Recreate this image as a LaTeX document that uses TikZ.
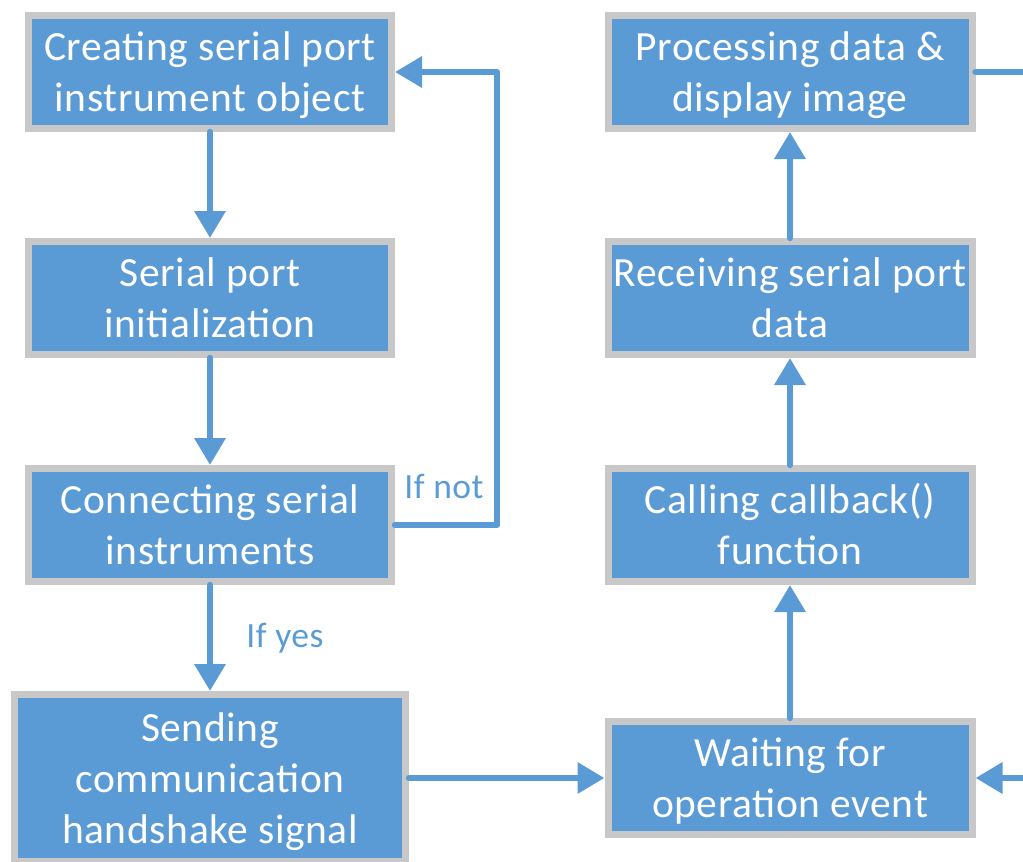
\documentclass[tikz,border=0pt]{standalone}
\usepackage{fontspec}
\setmainfont{Carlito}[LetterSpace=1.5]
\usetikzlibrary{arrows.meta}
\definecolor{boxblue}{HTML}{5B9BD5}
\definecolor{boxgray}{HTML}{C8C8C8}
\newcommand{\boxlines}[1]{\begin{tabular}{@{}c@{}}\rule{0pt}{44pt}#1\end{tabular}}
\tikzset{
  procbox/.style={draw=boxgray, line width=7pt, fill=boxblue, text=white,
    inner sep=0pt, minimum width=363pt, minimum height=113pt,
    font=\fontsize{41.5}{51}\selectfont},
  flow/.style={draw=boxblue, line width=6.5pt, line join=round, line cap=round,
    -{Triangle[length=27pt,width=30pt]}},
  plainline/.style={draw=boxblue, line width=6.5pt, line join=round, line cap=round},
  lbl/.style={text=boxblue, font=\fontsize{35.5}{42}\selectfont, inner sep=0pt}
}
\begin{document}
\begin{tikzpicture}[x=1pt,y=-1pt]
\useasboundingbox (0,0) rectangle (1023,862);
% left column
\node[procbox] (b1) at (210,72) {\boxlines{Creating serial port\\instrument object}};
\node[procbox] (b2) at (210,298) {\boxlines{Serial port\\initialization}};
\node[procbox] (b3) at (210,525) {\boxlines{Connecting serial\\instruments}};
\node[procbox, minimum width=391pt, minimum height=167pt] (b4) at (210,778)
  {\boxlines{Sending\\communication\\handshake signal}};
% right column
\node[procbox, minimum width=364pt] (r1) at (790,72) {\boxlines{Processing data \&\\display image}};
\node[procbox, minimum width=364pt] (r2) at (790,298) {\boxlines{Receiving serial port\\data}};
\node[procbox, minimum width=364pt] (r3) at (790,525) {\boxlines{Calling callback()\\function}};
\node[procbox, minimum width=364pt] (r4) at (790,778) {\boxlines{Waiting for\\operation event}};
% labels
\node[lbl] (ifnot) at (444,486) {If not};
\node[lbl] (ifyes) at (285,638) {If yes};
% free ends
\coordinate (loopb) at (497,525);
\coordinate (loopt) at (497,72);
\coordinate (outr1) at (1030,72);
\coordinate (inr4) at (1030,778);
% connectors
\draw[flow] (b1.south) -- (b2.north);
\draw[flow] (b2.south) -- (b3.north);
\draw[flow] (b3.south) -- (b4.north);
\draw[flow] (b3.east) -- (loopb) -- (loopt) -- (b1.east);
\draw[flow] (b4.east) -- (r4.west);
\draw[flow] (r4.north) -- (r3.south);
\draw[flow] (r3.north) -- (r2.south);
\draw[flow] (r2.north) -- (r1.south);
\draw[plainline] (r1.east) -- (outr1);
\draw[flow] (inr4) -- (r4.east);
\end{tikzpicture}
\end{document}
